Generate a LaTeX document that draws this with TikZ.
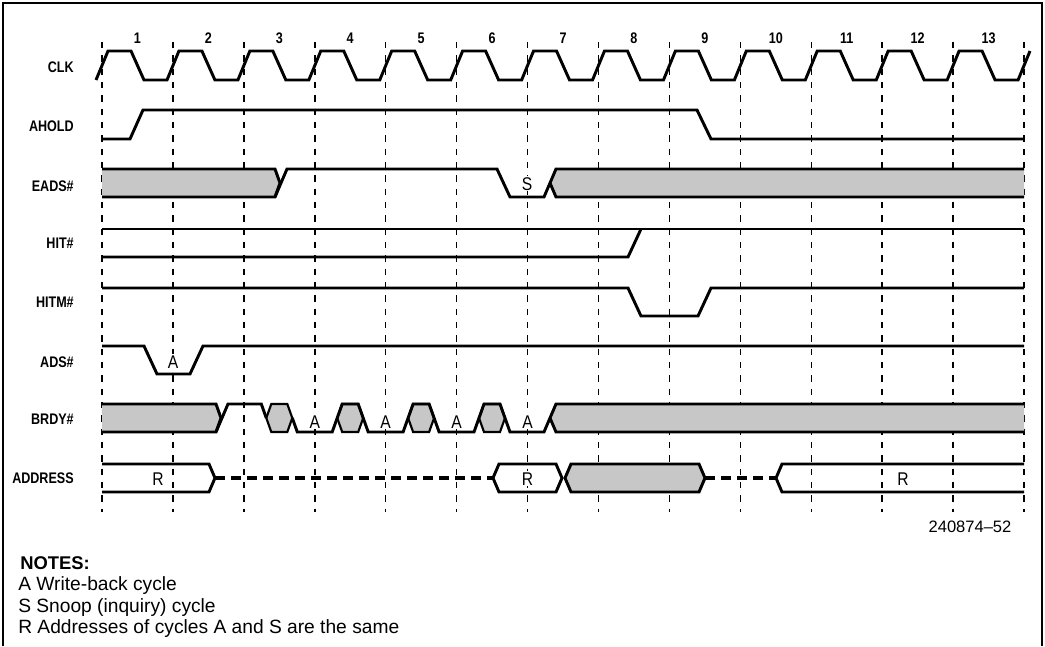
\documentclass[tikz,border=0pt]{standalone}
\usepackage{fontspec}
\setmainfont{Liberation Sans}
\newfontfamily\labfont[FakeStretch=0.82]{Liberation Sans}
\newfontfamily\wavefont[FakeStretch=0.85]{Liberation Sans}
\tikzset{
  sig/.style={line width=2.2pt, line join=miter, miter limit=4},
  thinsig/.style={line width=1.6pt, line join=miter},
  gridline/.style={line width=1.1pt, dash pattern=on 4.8pt off 5.2pt},
  busdash/.style={line width=2.4pt, dash pattern=on 7.5pt off 4.5pt},
  shaded/.style={fill=black!22},
  frameline/.style={line width=1.1pt},
  lbl/.style={font=\labfont\bfseries\fontsize{11.5}{12}\selectfont, anchor=base east, inner sep=0pt},
  num/.style={font=\labfont\bfseries\fontsize{11.5}{12}\selectfont, anchor=base, inner sep=0pt},
  wlbl/.style={font=\wavefont\fontsize{13.8}{15}\selectfont, anchor=base, inner sep=0.8pt, fill=white},
  note/.style={font=\fontsize{14.4}{16}\selectfont, anchor=base west, inner sep=0pt},
  fignum/.style={font=\fontsize{12.4}{14}\selectfont, anchor=base, inner sep=0pt}
}
\begin{document}
\begin{tikzpicture}[x=0.75pt,y=-0.75pt]
\useasboundingbox (0,0) rectangle (1045,646);
% frame
\draw[frameline] (3,646) -- (3,3) -- (1042,3) -- (1042,646);
% clock edge grid
\foreach \i in {0,...,13}
  \draw[gridline] ({102+70.923*\i},42) -- ({102+70.923*\i},512);
% cycle numbers
\foreach \i in {1,...,13}
  \node[num] (n\i) at ({102+70.923*(\i-0.5)},43) {\i};
% signal labels
\node[lbl] (lclk)  at (74,72)  {CLK};
\node[lbl] (lahold) at (74,131) {AHOLD};
\node[lbl] (leads) at (74,191) {EADS\#};
\node[lbl] (lhit)  at (74,248) {HIT\#};
\node[lbl] (lhitm) at (74,307) {HITM\#};
\node[lbl] (lads)  at (74,367) {ADS\#};
\node[lbl] (lbrdy) at (74,424) {BRDY\#};
\node[lbl] (laddr) at (74,483) {ADDRESS};
% CLK
\draw[sig] (96,80)
  \foreach \i in {0,...,12} {
    -- ({102+70.923*\i+6},51) -- ({102+70.923*\i+29},51)
    -- ({102+70.923*\i+42},80) -- ({102+70.923*\i+65},80) }
  -- (1030,51);
% AHOLD
\draw[sig] (102,139) -- (130,139) -- (143,110) -- (697,110) -- (711,139) -- (1024,139);
% EADS#
\fill[shaded] (102,169) -- (275,169) -- (280,183) -- (275,197) -- (102,197) -- cycle;
\fill[shaded] (550,183) -- (556,169) -- (1024,169) -- (1024,197) -- (556,197) -- cycle;
\draw[sig] (102,169) -- (275,169) -- (280,183) -- (275,197);
\draw[sig] (102,197) -- (275,197) -- (287,169) -- (497,169) -- (510,197) -- (544,197) -- (556,169) -- (1024,169);
\draw[sig] (1024,197) -- (556,197) -- (550,183);
\node[wlbl] (ls) at (527,190) {S};
% HIT#
\draw[sig] (102,229) -- (1024,229);
\draw[sig] (102,257) -- (628,257) -- (641,229);
% HITM#
\draw[sig] (102,288) -- (628,288) -- (641,316) -- (698,316) -- (711,288) -- (1024,288);
% ADS#
\draw[sig] (102,346) -- (144,346) -- (157,374) -- (190,374) -- (203,346) -- (1024,346);
\node[wlbl] (la0) at (173,368) {A};
% BRDY#
\fill[shaded] (102,404) -- (216,404) -- (221,418) -- (216,432) -- (102,432) -- cycle;
\fill[shaded] (550,418) -- (556,404) -- (1024,404) -- (1024,432) -- (556,432) -- cycle;
\foreach \h in {279.3,350.2,421.1,492.0}
  \filldraw[shaded, thinsig] ({\h-13},418) -- ({\h-8},404) -- ({\h+8},404) -- ({\h+13},418) -- ({\h+8},432) -- ({\h-8},432) -- cycle;
\draw[sig] (102,404) -- (216,404) -- (221,418) -- (216,432);
\draw[sig] (102,432) -- (216,432) -- (228,404) -- (261.3,404) -- (266.3,418);
\draw[sig] (292.3,418) -- (297.3,432) -- (332.2,432) -- (337.2,418) -- (342.2,404) -- (358.2,404)
  -- (363.2,418) -- (368.2,432) -- (403.1,432) -- (408.1,418) -- (413.1,404) -- (429.1,404)
  -- (434.1,418) -- (439.1,432) -- (474,432) -- (479,418) -- (484,404) -- (500,404)
  -- (505,418) -- (510,432) -- (544,432) -- (556,404) -- (1024,404);
\draw[sig] (1024,432) -- (556,432) -- (550,418);
\draw[sig] (271.3,404) -- (287.3,404);
\node[wlbl] (la1) at (314.8,428) {A};
\node[wlbl] (la2) at (385.7,428) {A};
\node[wlbl] (la3) at (456.6,428) {A};
\node[wlbl] (la4) at (527.5,428) {A};
% ADDRESS
\draw[sig] (102,464) -- (209,464) -- (215,478) -- (209,492) -- (102,492);
\draw[busdash] (215,478) -- (493,478);
\draw[sig] (493,478) -- (499,464) -- (556,464) -- (562,478) -- (556,492) -- (499,492) -- cycle;
\filldraw[shaded, sig] (565,478) -- (571,464) -- (699,464) -- (705,478) -- (699,492) -- (571,492) -- cycle;
\draw[busdash] (705,478) -- (776,478);
\draw[sig] (1024,464) -- (782,464) -- (776,478) -- (782,492) -- (1024,492);
\node[wlbl] (lr1) at (158,485) {R};
\node[wlbl] (lr2) at (527.5,485) {R};
\node[wlbl] (lr3) at (903,485) {R};
% figure number
\node[fignum] (fig) at (970,532) {240874--52};
% notes
\node[note, font=\bfseries\fontsize{13.8}{16}\selectfont] (notes) at (20,569) {NOTES:};
\node[note] (na) at (18,590) {A Write-back cycle};
\node[note] (ns) at (18,612) {S Snoop (inquiry) cycle};
\node[note] (nr) at (18,633) {R Addresses of cycles A and S are the same};
\end{tikzpicture}
\end{document}
